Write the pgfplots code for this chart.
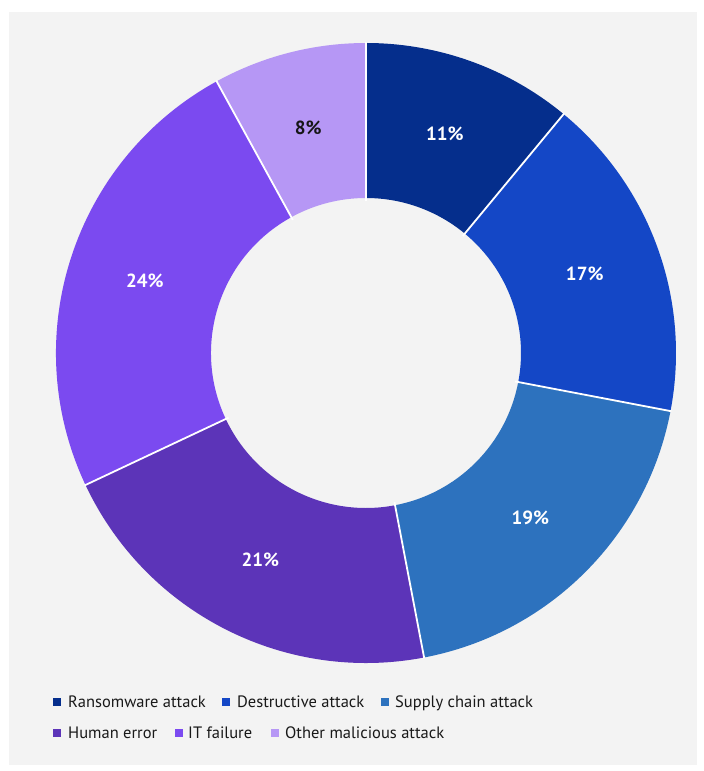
\documentclass[border=0pt]{standalone}
\usepackage{fontspec}
\setmainfont{PT Sans}
\usepackage{pgfplots}
\usepackage{pgfplotstable}
\pgfplotsset{compat=1.18}
\definecolor{c0}{HTML}{052E8C}
\definecolor{c1}{HTML}{1447C6}
\definecolor{c2}{HTML}{2D72BE}
\definecolor{c3}{HTML}{5C34B8}
\definecolor{c4}{HTML}{7B4AF0}
\definecolor{c5}{HTML}{B697F5}
\definecolor{l0}{HTML}{FFFFFF}
\definecolor{l1}{HTML}{FFFFFF}
\definecolor{l2}{HTML}{FFFFFF}
\definecolor{l3}{HTML}{FFFFFF}
\definecolor{l4}{HTML}{FFFFFF}
\definecolor{l5}{HTML}{161616}
\definecolor{bg}{HTML}{F3F3F3}
\pgfplotstableread{
idx value
0 11
1 17
2 19
3 21
4 24
5 8
}\slices
\begin{document}
\begin{tikzpicture}[x=1pt,y=1pt]
\fill[white] (0,0) rectangle (704,771);
\fill[bg] (9,6) rectangle (697,759);
\gdef\cumsum{0}%
\foreach \i in {0,...,5}{%
  \pgfplotstablegetelem{\i}{value}\of\slices
  \pgfmathsetmacro\sA{90-3.6*\cumsum}%
  \pgfmathsetmacro\sB{90-3.6*(\cumsum+\pgfplotsretval)}%
  \pgfmathsetmacro\sM{(\sA+\sB)/2}%
  \expandafter\xdef\csname sa\i\endcsname{\sA}%
  \expandafter\xdef\csname sb\i\endcsname{\sB}%
  \expandafter\xdef\csname sm\i\endcsname{\sM}%
  \expandafter\xdef\csname sv\i\endcsname{\pgfplotsretval}%
  \pgfmathsetmacro\nC{\cumsum+\pgfplotsretval}%
  \xdef\cumsum{\nC}%
}%
\begin{axis}[
  at={(56pt,108pt)}, anchor=south west,
  scale only axis, width=620pt, height=620pt,
  xmin=-1, xmax=1, ymin=-1, ymax=1,
  hide axis, clip=false]
\pgfplotsinvokeforeach{0,...,5}{
  \fill[c#1] (axis cs:{cos(\csname sa#1\endcsname)},{sin(\csname sa#1\endcsname)})
    arc[start angle=\csname sa#1\endcsname, end angle=\csname sb#1\endcsname, radius=310pt]
    -- (axis cs:{0.5*cos(\csname sb#1\endcsname)},{0.5*sin(\csname sb#1\endcsname)})
    arc[start angle=\csname sb#1\endcsname, end angle=\csname sa#1\endcsname, radius=155pt]
    -- cycle;
}
\pgfplotsinvokeforeach{0,...,5}{
  \draw[white, line width=1.8pt]
    (axis cs:{0.49*cos(\csname sa#1\endcsname)},{0.49*sin(\csname sa#1\endcsname)})
    -- (axis cs:{1.003*cos(\csname sa#1\endcsname)},{1.003*sin(\csname sa#1\endcsname)});
}
\pgfplotsinvokeforeach{0,...,5}{
  \node[text=l#1, font=\bfseries\fontsize{19}{22}\selectfont]
    at (axis cs:{0.75*cos(\csname sm#1\endcsname)},{0.75*sin(\csname sm#1\endcsname)})
    {\csname sv#1\endcsname\%};
}
\end{axis}
\begin{scope}[every node/.style={anchor=base west, inner sep=0pt, text=black!90, font=\fontsize{16.5}{19}\selectfont}]
\fill[c0] (53,65) rectangle (61,73); \node at (68,63.5) {Ransomware attack};
\fill[c1] (222,65) rectangle (230,73); \node at (237,63.5) {Destructive attack};
\fill[c2] (381,65) rectangle (389,73); \node at (395,63.5) {Supply chain attack};
\fill[c3] (53,34) rectangle (61,42); \node at (68,32.5) {Human error};
\fill[c4] (175,34) rectangle (183,42); \node at (188,32.5) {IT failure};
\fill[c5] (271,34) rectangle (279,42); \node at (285,32.5) {Other malicious attack};
\end{scope}
\end{tikzpicture}
\end{document}
